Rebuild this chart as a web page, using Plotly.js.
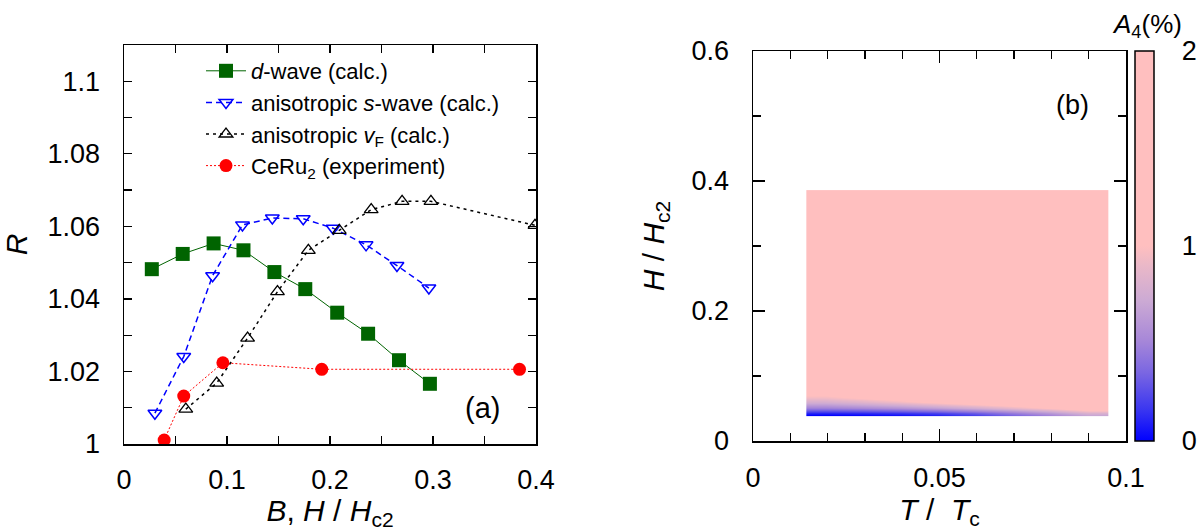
<!DOCTYPE html>
<html><head><meta charset="utf-8">
<script src="https://cdn.plot.ly/plotly-3.0.1.min.js"></script>
<style>html,body{margin:0;padding:0;background:#fff}#chart{width:1200px;height:531px}</style>
</head><body><div id="chart"></div>
<script>
// ---- Panel (a) data ----
const dwaveB = [0.027,0.057,0.087,0.116,0.146,0.176,0.207,0.237,0.267,0.297];
const dwaveR = [1.0482,1.0524,1.0553,1.0534,1.0474,1.0427,1.0362,1.0304,1.0231,1.0166];
const swaveB = [0.030,0.058,0.086,0.115,0.144,0.174,0.203,0.235,0.265,0.296];
const swaveR = [1.0085,1.0241,1.0464,1.0604,1.0623,1.0621,1.0595,1.0549,1.0492,1.0430];
const vfB = [0.060,0.090,0.120,0.149,0.179,0.209,0.240,0.270,0.298,0.399];
const vfR = [1.0096,1.0168,1.0292,1.0420,1.0534,1.0589,1.0646,1.0669,1.0669,1.0603];
const expH = [0.039,0.058,0.096,0.192,0.384];
const expR = [1.0011,1.0132,1.0224,1.0206,1.0206];
const seriesNames = ['<i>d</i>-wave (calc.)','anisotropic <i>s</i>-wave (calc.)','anisotropic <i>v</i><sub>F</sub> (calc.)','CeRu<sub>2</sub> (experiment)'];
const xTickVals = [0,0.1,0.2,0.3,0.4];
const xTickText = ['0','0.1','0.2','0.3','0.4'];
const yTickVals = [1,1.02,1.04,1.06,1.08,1.1];
const yTickText = ['1','1.02','1.04','1.06','1.08','1.1'];

// ---- Panel (b) data ----
const tEdges = [0.0143,0.0243,0.0343,0.0443,0.0543,0.0643,0.0743,0.0843,0.0953];
const hEdges = [0.039,0.042,0.045,0.048,0.051,0.055,0.060,0.066,0.073,0.080,0.386];
const a4 = [
  [0.00,0.02,0.05,0.10,0.20,0.35,0.50,0.70],
  [0.10,0.12,0.15,0.20,0.30,0.45,0.60,0.80],
  [0.25,0.28,0.32,0.38,0.48,0.60,0.75,0.95],
  [0.40,0.43,0.48,0.55,0.65,0.78,0.92,1.10],
  [0.55,0.60,0.66,0.74,0.84,0.96,1.10,1.30],
  [0.70,0.76,0.84,0.94,1.05,1.18,1.30,1.50],
  [0.85,0.92,1.02,1.15,1.28,1.40,1.50,1.65],
  [1.00,1.10,1.25,1.38,1.50,1.60,1.68,1.78],
  [1.20,1.35,1.48,1.58,1.68,1.74,1.80,1.85],
  [2.00,2.00,2.00,2.00,2.00,2.00,2.00,2.00]
];
const cbTickVals = [0,1,2];
const cbTickText = ['0','1','2'];

const FONT = 'Liberation Sans, Arial, Helvetica, sans-serif';
const W = 1200, H = 531;
const px = v => v / W;
const py = v => (H - v) / H;

const traces = [
  {x: dwaveB, y: dwaveR, name: seriesNames[0], type:'scatter', mode:'lines+markers',
   line:{color:'#006400', width:1}, marker:{symbol:'square', size:14, color:'#006400'}, xaxis:'x', yaxis:'y'},
  {x: swaveB, y: swaveR, name: seriesNames[1], type:'scatter', mode:'lines+markers',
   line:{color:'#0000ff', width:1.5, dash:'6px,4px'}, marker:{symbol:'triangle-down-open', size:12, color:'#0000ff', line:{width:1.5, color:'#0000ff'}}, xaxis:'x', yaxis:'y'},
  {x: vfB, y: vfR, name: seriesNames[2], type:'scatter', mode:'lines+markers',
   line:{color:'#000000', width:1.5, dash:'3px,4px'}, marker:{symbol:'triangle-up-open', size:12, color:'#000000', line:{width:1.3, color:'#000000'}}, xaxis:'x', yaxis:'y'},
  {x: expH, y: expR, name: seriesNames[3], type:'scatter', mode:'lines+markers',
   line:{color:'#ff0000', width:1, dash:'2px,2px'}, marker:{symbol:'circle', size:13, color:'#ff0000'}, xaxis:'x', yaxis:'y'},
  {x: tEdges, y: hEdges, z: a4, type:'heatmap', xaxis:'x2', yaxis:'y2', zsmooth:'best',
   zmin:0, zmax:2, showlegend:false, hoverinfo:'skip',
   colorscale:[[0,'#0000ff'],[0.08,'#3a36f0'],[0.175,'#7a66e2'],[0.26,'#a888d8'],[0.36,'#ccaad4'],[0.45,'#eab8c8'],[0.5,'#ffbfbf'],[1,'#ffbfbf']],
   colorbar:{x: px(1135), xanchor:'left', xpad:0, ypad:0, y: py(441), yanchor:'bottom',
     thickness:19, thicknessmode:'pixels', len:390, lenmode:'pixels',
     outlinewidth:1.5, outlinecolor:'#000',
     tickvals: cbTickVals, ticktext: cbTickText, ticks:'outside', ticklen:22, tickcolor:'rgba(0,0,0,0)',
     tickfont:{family:FONT, size:27, color:'#000'}}}
];

const axBase = {showline:true, linecolor:'#000', linewidth:1.5, mirror:'allticks', ticks:'inside',
  ticklen:8, tickwidth:1.2, tickcolor:'#000', showgrid:false, zeroline:false,
  tickfont:{family:FONT, size:27, color:'#000'}, fixedrange:true};

const layout = {
  width: W, height: H, margin:{l:0, r:0, t:0, b:0}, paper_bgcolor:'#fff', plot_bgcolor:'#fff',
  font:{family:FONT, color:'#000'},
  showlegend:true,
  legend:{x: px(505), xanchor:'right', y: py(50), yanchor:'top', bgcolor:'rgba(0,0,0,0)',
    font:{family:FONT, size:22, color:'#000'}, itemwidth:40, tracegroupgap:0},
  xaxis: Object.assign({}, axBase, {domain:[px(124), px(536)], range:[0,0.4], anchor:'y',
    tickmode:'array', tickvals:xTickVals, ticktext:xTickText, ticklabelstandoff:11,
    minor:{dtick:0.05, tick0:0, ticklen:8, ticks:'inside', tickcolor:'#000', tickwidth:1.2},
    title:{text:'<i>B</i>, <i>H</i> / <i>H</i><sub>c2</sub>', font:{family:FONT, size:30}, standoff:6}}),
  yaxis: Object.assign({}, axBase, {domain:[py(444), py(45)], range:[1,1.11], anchor:'x',
    tickmode:'array', tickvals:yTickVals, ticktext:yTickText, ticklabelstandoff:17,
    minor:{dtick:0.01, tick0:1, ticklen:8, ticks:'inside', tickcolor:'#000', tickwidth:1.2},
    title:{text:'<i>R</i>', font:{family:FONT, size:30}, standoff:14}}),
  xaxis2: Object.assign({}, axBase, {domain:[px(753), px(1126)], range:[0,0.1], anchor:'y2',
    tickmode:'linear', tick0:0, dtick:0.05, ticklen:12, ticklabelstandoff:12,
    minor:{dtick:0.01, tick0:0, ticklen:8, ticks:'inside', tickcolor:'#000', tickwidth:1.2},
    title:{text:'<i>T</i> /  <i>T</i><sub>c</sub>', font:{family:FONT, size:30}, standoff:0}}),
  yaxis2: Object.assign({}, axBase, {domain:[py(441), py(51)], range:[0,0.6], anchor:'x2',
    tickmode:'linear', tick0:0, dtick:0.2, ticklen:12, ticklabelstandoff:17,
    minor:{dtick:0.1, tick0:0, ticklen:8, ticks:'inside', tickcolor:'#000', tickwidth:1.2},
    title:{text:'<i>H</i> / <i>H</i><sub>c2</sub>', font:{family:FONT, size:30}, standoff:18}}),
  annotations:[
    {text:'(a)', xref:'paper', yref:'paper', x:px(482), y:py(408), xanchor:'center', yanchor:'middle', showarrow:false, font:{family:FONT, size:29, color:'#000'}},
    {text:'(b)', xref:'paper', yref:'paper', x:px(1072), y:py(105), xanchor:'center', yanchor:'middle', showarrow:false, font:{family:FONT, size:27, color:'#000'}},
    {text:'<i>A</i><sub>4</sub>(%)', xref:'paper', yref:'paper', x:px(1184), y:py(7), xanchor:'right', yanchor:'top', showarrow:false, font:{family:FONT, size:26, color:'#000'}}
  ],
  shapes:[
    {type:'line', xref:'paper', yref:'paper', x0:px(1135), x1:px(1154), y0:py(246), y1:py(246), line:{color:'#000', width:1.5}}
  ]
};

Plotly.newPlot('chart', traces, layout, {staticPlot:true, displayModeBar:false});
</script></body></html>
